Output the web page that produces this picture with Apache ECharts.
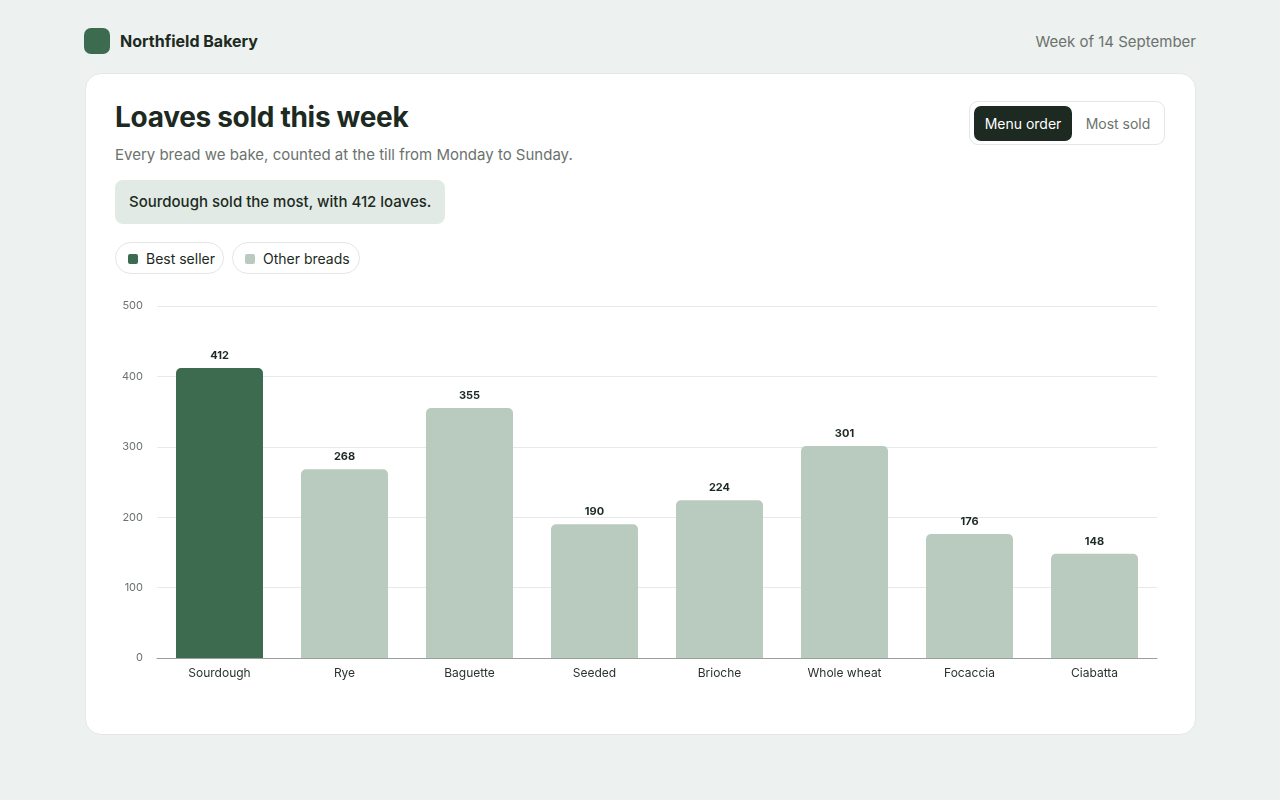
<!DOCTYPE html>
<html><head><meta charset="utf-8">
<script src="https://cdn.jsdelivr.net/npm/echarts@6/dist/echarts.min.js"></script>
<style>
body{margin:0;width:1280px;height:800px;background:#edf1ef;font-family:Inter,"Noto Sans",sans-serif;position:relative;overflow:hidden;color:#1c2a22}
.logo{position:absolute;left:84px;top:28px;width:26px;height:26px;border-radius:7px;background:#3d6b50}
.brand{position:absolute;left:120px;top:31px;font-size:16px;font-weight:700}
.week{position:absolute;right:84px;top:32px;font-size:15px;color:#6b726e}
.card{position:absolute;left:85px;top:73px;width:1109px;height:660px;background:#fff;border:1px solid #e3e7e5;border-radius:16px}
h1{position:absolute;left:115px;top:100px;margin:0;font-size:28px;font-weight:700;letter-spacing:-0.3px}
.sub{position:absolute;left:115px;top:145px;font-size:15px;color:#6b726e}
.call{position:absolute;left:115px;top:180px;height:44px;padding:0 14px;line-height:43px;background:#e2eae6;border-radius:8px;font-size:15px;font-weight:500}
.chip{position:absolute;top:242px;height:32px;border:1px solid #e3e7e5;border-radius:17px;font-size:14px;line-height:32px;box-sizing:border-box;padding-left:30px}
.chip i{position:absolute;left:12px;top:11px;width:10px;height:10px;border-radius:2px}
.tog{position:absolute;left:969px;top:101px;width:196px;height:44px;border:1px solid #e3e7e5;border-radius:9px;box-sizing:border-box}
.tog .a{position:absolute;left:4px;top:4px;width:98px;height:35px;background:#1c2a22;color:#fff;border-radius:7px;text-align:center;line-height:35px;font-size:14px}
.tog .b{position:absolute;left:104px;top:4px;width:88px;text-align:center;line-height:35px;font-size:14px;color:#6b726e}
#chart{position:absolute;left:85px;top:290px;width:1110px;height:423px}
</style></head><body>
<div class="logo"></div><div class="brand">Northfield Bakery</div><div class="week">Week of 14 September</div>
<div class="card"></div>
<h1>Loaves sold this week</h1>
<div class="sub">Every bread we bake, counted at the till from Monday to Sunday.</div>
<div class="call">Sourdough sold the most, with 412 loaves.</div>
<div class="chip" style="left:115px;width:109px"><i style="background:#3d6b50"></i>Best seller</div>
<div class="chip" style="left:232px;width:128px"><i style="background:#b9cbbf"></i>Other breads</div>
<div class="tog"><div class="a">Menu order</div><div class="b">Most sold</div></div>
<div id="chart"></div>
<script>
const categories=["Sourdough","Rye","Baguette","Seeded","Brioche","Whole wheat","Focaccia","Ciabatta"];
const loaves=[412,268,355,190,224,301,176,148];
const bestColor="#3d6b50", otherColor="#b9cbbf";
const maxV=Math.max(...loaves);
const chart=echarts.init(document.getElementById('chart'));
chart.setOption({
  animation:false,
  grid:{left:72,right:38,top:16,bottom:55},
  xAxis:{type:'category',data:categories,axisTick:{show:false},
    axisLine:{lineStyle:{color:'#9a9f9c'}},
    axisLabel:{color:'#2a332e',fontSize:12,margin:9,fontFamily:'Inter'}},
  yAxis:{type:'value',min:0,max:500,interval:100,
    axisLabel:{color:'#6b726e',fontSize:11,margin:14,fontFamily:'Inter'},
    splitLine:{lineStyle:{color:'#e6e9e7'}}},
  series:[{type:'bar',barWidth:87,
    data:loaves.map(v=>({value:v,itemStyle:{color:v===maxV?bestColor:otherColor}})),
    itemStyle:{borderRadius:[5,5,0,0]},
    label:{show:true,position:'top',distance:7,color:'#1c2a22',fontSize:11,fontWeight:700,fontFamily:'Inter'}}]
});
</script>
</body></html>
